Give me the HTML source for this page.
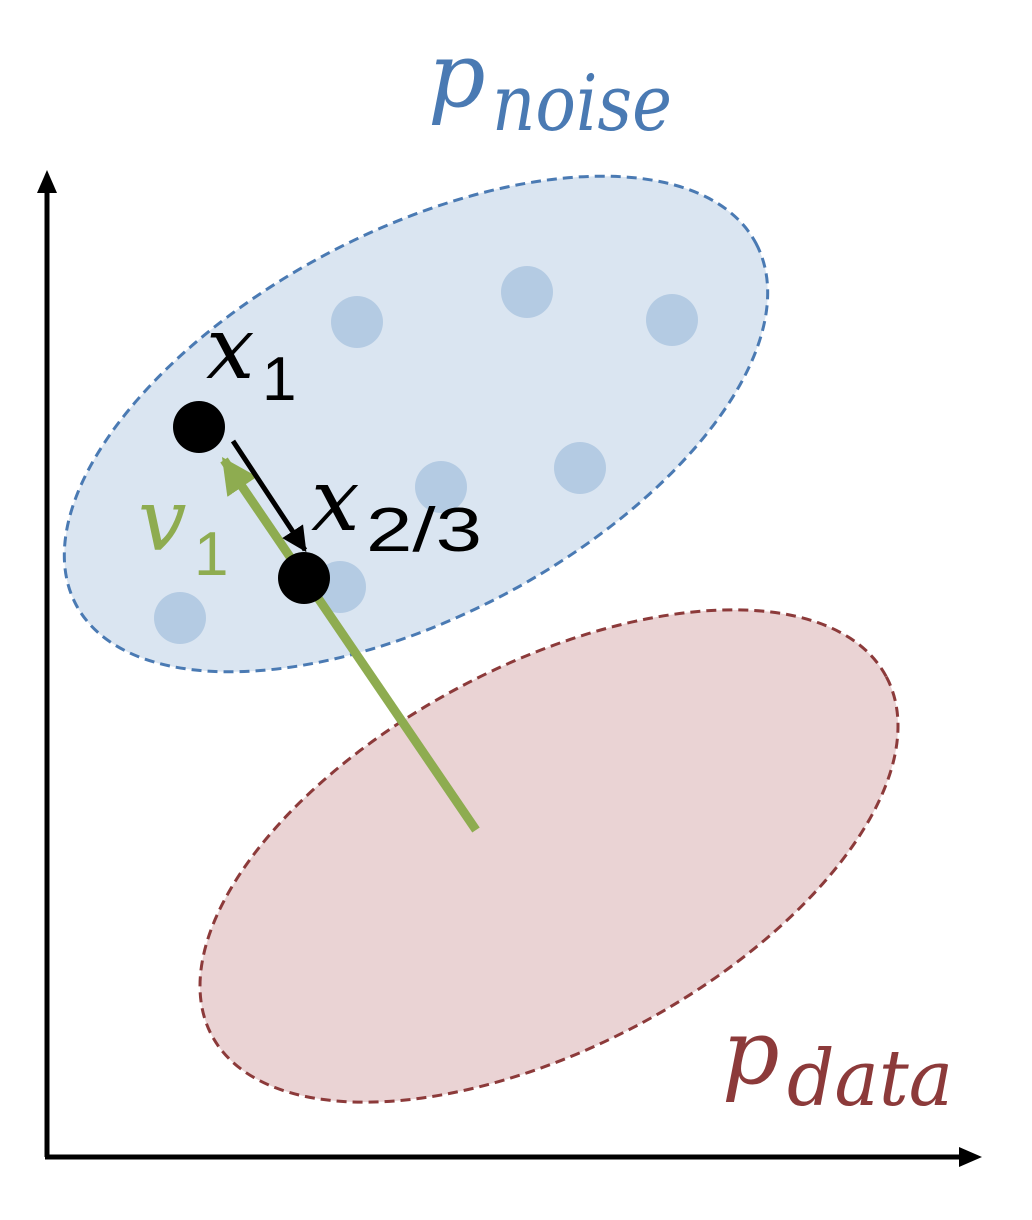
<!DOCTYPE html>
<html><head><meta charset="utf-8"><style>html,body{margin:0;padding:0;background:#fff}svg{display:block}</style></head>
<body>
<svg width="1032" height="1220" viewBox="0 0 1032 1220" xmlns="http://www.w3.org/2000/svg">
<defs>
<marker id="ab" viewBox="0 0 10 10" refX="9" refY="5" markerWidth="5" markerHeight="5" orient="auto" markerUnits="strokeWidth"><path d="M0,0 L10,5 L0,10 z" fill="#000"/></marker>
<marker id="ag" viewBox="0 0 10 10" refX="9" refY="5" markerWidth="4" markerHeight="4" orient="auto" markerUnits="strokeWidth"><path d="M0,0 L10,5 L0,10 z" fill="#8eac50"/></marker>
</defs>
<line x1="47" y1="1157" x2="47" y2="190" stroke="#000" stroke-width="5"/>
<path d="M37,193 L47,170 L57,193 z" fill="#000"/>
<line x1="45" y1="1157" x2="962" y2="1157" stroke="#000" stroke-width="5"/>
<path d="M959,1147 L982,1157 L959,1167 z" fill="#000"/>
<ellipse cx="416" cy="424" rx="385" ry="192" transform="rotate(-28 416 424)" fill="#dae5f1" stroke="#4a7ab3" stroke-width="3" stroke-dasharray="10,6"/>
<ellipse cx="549" cy="856" rx="382" ry="191" transform="rotate(-28 549 856)" fill="#ead3d4" stroke="#8c3a3a" stroke-width="3" stroke-dasharray="10,6"/>
<g fill="#b4cbe3">
<circle cx="357" cy="322" r="26"/><circle cx="527" cy="292" r="26"/><circle cx="672" cy="320" r="26"/>
<circle cx="441" cy="487" r="26"/><circle cx="580" cy="468" r="26"/><circle cx="340" cy="587" r="26"/><circle cx="180" cy="618" r="26"/>
</g>
<line x1="476" y1="830" x2="224" y2="460" stroke="#8eac50" stroke-width="9" marker-end="url(#ag)"/>
<line x1="233" y1="441" x2="305" y2="550" stroke="#000" stroke-width="5" marker-end="url(#ab)"/>
<circle cx="199" cy="427" r="26" fill="#000"/>
<circle cx="304" cy="578" r="26" fill="#000"/>
<text x="206" y="378" font-family="DejaVu Serif, serif" font-style="italic" font-size="86" fill="#000">x</text>
<text x="262" y="400" font-family="Liberation Sans, sans-serif" font-size="62" fill="#000">1</text>
<text x="311" y="530" font-family="DejaVu Serif, serif" font-style="italic" font-size="86" fill="#000">x</text>
<text x="366" y="551" font-family="Liberation Sans, sans-serif" font-size="62" textLength="116" lengthAdjust="spacingAndGlyphs" fill="#000">2/3</text>
<text x="138" y="550" font-family="DejaVu Serif, serif" font-style="italic" font-size="86" fill="#8eac50">v</text>
<text x="194" y="575" font-family="Liberation Sans, sans-serif" font-size="62" fill="#8eac50">1</text>
<text x="428" y="106" font-family="DejaVu Serif, serif" font-style="italic" font-size="90" fill="#4a7ab3">p</text>
<text x="492" y="130" font-family="DejaVu Serif, serif" font-style="italic" font-size="78" textLength="180" lengthAdjust="spacingAndGlyphs" fill="#4a7ab3">noise</text>
<text x="722" y="1083" font-family="DejaVu Serif, serif" font-style="italic" font-size="90" fill="#8c3a3a">p</text>
<text x="787" y="1105" font-family="DejaVu Serif, serif" font-style="italic" font-size="78" textLength="166" lengthAdjust="spacingAndGlyphs" fill="#8c3a3a">data</text>
</svg>
</body></html>
